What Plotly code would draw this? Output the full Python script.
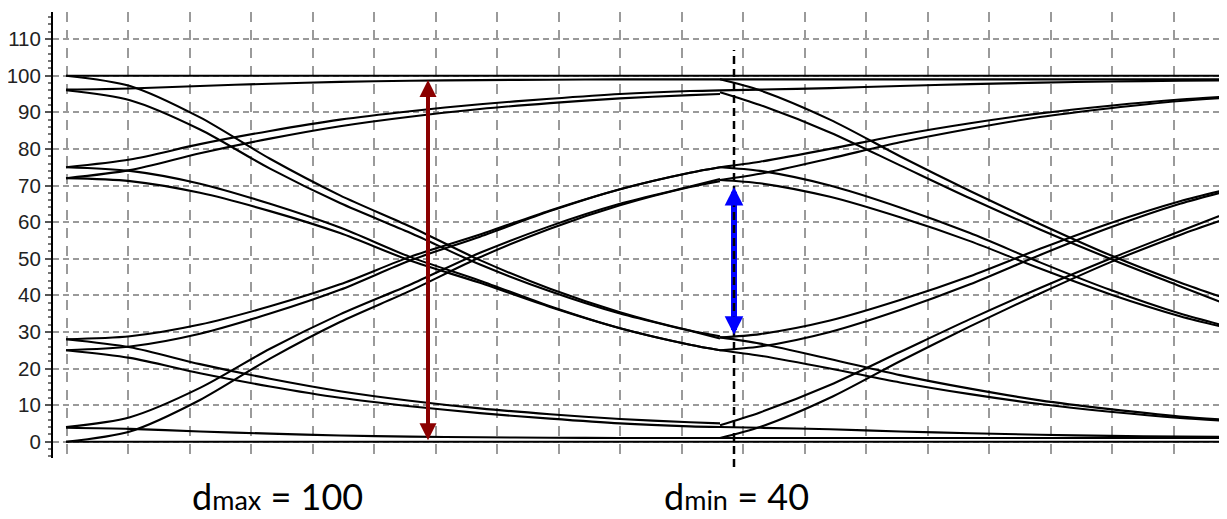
import plotly.graph_objects as go

# time samples (screen units) for the first bit period and the next, partial, one
t_a = [66, 130, 200, 270, 340, 410, 480, 550, 620, 690, 720]
t_b = [720, 760, 830, 900, 970, 1040, 1110, 1180, 1227]

# first bit period: one list per level transition
u1_100_100 = [100, 100, 100, 100, 100, 100, 100, 100, 100, 100, 100]
u1_96_99 = [96.2, 96.5, 97.2, 97.8, 98.3, 98.6, 98.8, 98.9, 99, 99, 99]
u1_100_29 = [100, 97.2, 88.6, 77.3, 67.3, 58.8, 49.6, 41.8, 35.4, 30.4, 28.8]
u1_96_28 = [96, 93.3, 85.3, 74.6, 65.2, 57.1, 48.4, 41.1, 35, 30.3, 28.2]
u1_75_96 = [75, 77.1, 81.3, 84.9, 88, 90.3, 92.2, 93.7, 95, 95.8, 96]
u1_72_95 = [72, 74.2, 78.8, 82.8, 86.2, 88.8, 90.9, 92.5, 93.8, 94.7, 95]
u1_75_25 = [75, 74, 70.5, 65, 58.5, 50.5, 44, 37, 31, 26.5, 25]
u1_72_25 = [72, 71.2, 68, 63, 57, 49.5, 43.4, 36.8, 31, 26.5, 25]
u1_0_0 = [0, 0, 0, 0, 0, 0, 0, 0, 0, 0, 0]
u1_4_1 = [3.8, 3.5, 2.8, 2.2, 1.7, 1.4, 1.2, 1.1, 1, 1, 1]
u1_0_71 = [0, 2.8, 11.4, 22.7, 32.7, 41.2, 50.4, 58.2, 64.6, 69.6, 71.2]
u1_4_72 = [4, 6.7, 14.7, 25.4, 34.8, 42.9, 51.6, 58.9, 65, 69.7, 71.8]
u1_25_4 = [25, 22.9, 18.7, 15.1, 12, 9.7, 7.8, 6.3, 5, 4.2, 4]
u1_28_5 = [28, 25.8, 21.2, 17.2, 13.8, 11.2, 9.1, 7.5, 6.2, 5.3, 5]
u1_25_75 = [25, 26, 29.5, 35, 41.5, 49.5, 56, 63, 69, 73.5, 75]
u1_28_75 = [28, 28.8, 32, 37, 43, 50.5, 56.6, 63.2, 69, 73.5, 75]

# second bit period
u2_100_100 = [100, 100, 100, 100, 100, 100, 100, 100, 100]
u2_99_99 = [99, 99, 99, 99, 99, 99, 99, 99, 99]
u2_96_99 = [96, 96.2, 96.6, 97.2, 97.7, 98.1, 98.4, 98.6, 98.7]
u2_99_29 = [99, 96, 88, 78, 68.5, 59.5, 51, 43.5, 39]
u2_96_29 = [95.5, 92, 84.5, 75.5, 66.5, 58, 50, 42.5, 37.5]
u2_75_96 = [75, 76.5, 80, 83.8, 87, 89.7, 91.8, 93.5, 94.3]
u2_72_96 = [71.5, 73.2, 77.4, 81.8, 85.5, 88.7, 91.1, 93.1, 94]
u2_75_25 = [75, 74, 70, 64, 57, 49, 41.5, 35, 31.5]
u2_72_25 = [71.5, 70.6, 66.9, 61.3, 54.8, 47.3, 40.3, 34.3, 31.1]
u2_0_0 = [0, 0, 0, 0, 0, 0, 0, 0, 0]
u2_1_1 = [1, 1, 1, 1, 1, 1, 1, 1, 1]
u2_4_1 = [4, 3.8, 3.4, 2.8, 2.3, 1.9, 1.6, 1.4, 1.3]
u2_1_71 = [1, 4, 12, 22, 31.5, 40.5, 49, 56.5, 61]
u2_4_71 = [4.5, 8, 15.5, 24.5, 33.5, 42, 50, 57.5, 62.5]
u2_25_4 = [25, 23.5, 20, 16.2, 13, 10.3, 8.2, 6.5, 5.7]
u2_28_4 = [28.5, 26.8, 22.6, 18.2, 14.5, 11.3, 8.9, 6.9, 6]
u2_25_75 = [25, 26, 30, 36, 43, 51, 58.5, 65, 68.5]
u2_28_75 = [28.5, 29.4, 33.1, 38.7, 45.2, 52.7, 59.7, 65.7, 68.9]

period_1 = [u1_100_100, u1_96_99, u1_100_29, u1_96_28, u1_75_96, u1_72_95,
            u1_75_25, u1_72_25, u1_0_0, u1_4_1, u1_0_71, u1_4_72,
            u1_25_4, u1_28_5, u1_25_75, u1_28_75]
period_2 = [u2_100_100, u2_99_99, u2_96_99, u2_99_29, u2_96_29, u2_75_96,
            u2_72_96, u2_75_25, u2_72_25, u2_0_0, u2_1_1, u2_4_1, u2_1_71,
            u2_4_71, u2_25_4, u2_28_4, u2_25_75, u2_28_75]

# eye openings marked on the chart
d_max_time, d_max_lo, d_max_hi = 428, 0, 98.8
d_min_time, d_min_lo, d_min_hi = 734, 29.2, 69.6
y_ticks = [0, 10, 20, 30, 40, 50, 60, 70, 80, 90, 100, 110]

fig = go.Figure()

for ys in period_1:
    fig.add_trace(go.Scatter(x=t_a, y=ys, mode='lines', hoverinfo='skip',
                             line=dict(color='black', width=2.1,
                                       shape='spline', smoothing=0.8),
                             showlegend=False))
for ys in period_2:
    fig.add_trace(go.Scatter(x=t_b, y=ys, mode='lines', hoverinfo='skip',
                             line=dict(color='black', width=2.1,
                                       shape='spline', smoothing=0.8),
                             showlegend=False))

# blue shaft, then the dashed sampling line over it
fig.add_shape(type='line', xref='x', yref='y', layer='above',
              x0=d_min_time, x1=d_min_time, y0=d_min_lo + 3, y1=d_min_hi - 3,
              line=dict(color='#0000FF', width=6))
fig.add_shape(type='line', xref='x', yref='paper', layer='above',
              x0=d_min_time, x1=d_min_time, y0=-0.02, y1=0.915,
              line=dict(color='black', width=2.5, dash='8px,5px'))

# arrow heads
fig.add_annotation(x=d_min_time, y=d_min_hi, ax=d_min_time, ay=d_min_hi - 3,
                   xref='x', yref='y', axref='x', ayref='y', text='',
                   showarrow=True, arrowhead=2, arrowsize=0.62, arrowwidth=6,
                   arrowcolor='#0000FF', standoff=0)
fig.add_annotation(x=d_min_time, y=d_min_lo, ax=d_min_time, ay=d_min_lo + 3,
                   xref='x', yref='y', axref='x', ayref='y', text='',
                   showarrow=True, arrowhead=2, arrowsize=0.62, arrowwidth=6,
                   arrowcolor='#0000FF', standoff=0)
fig.add_annotation(x=d_max_time, y=d_max_hi, ax=d_max_time, ay=d_max_lo,
                   xref='x', yref='y', axref='x', ayref='y', text='',
                   showarrow=True, arrowhead=2, startarrowhead=2,
                   arrowside='end+start', arrowsize=0.85, startarrowsize=0.85,
                   arrowwidth=4, arrowcolor='#8B0000', standoff=0,
                   startstandoff=0)

fig.add_annotation(x=277, y=-0.086, xref='x', yref='paper', showarrow=False,
                   yanchor='middle', xanchor='center', borderpad=0,
                   text="d<span style='font-size:27px'>max</span> = 100",
                   font=dict(family='Lato, sans-serif', size=36, color='black'))
fig.add_annotation(x=736, y=-0.086, xref='x', yref='paper', showarrow=False,
                   yanchor='middle', xanchor='center', borderpad=0,
                   text="d<span style='font-size:27px'>min</span> = 40",
                   font=dict(family='Lato, sans-serif', size=36, color='black'))

# the page keeps an 8 px body margin, so the figure is 8 px smaller each way
fig.update_layout(
    width=1219,
    height=511,
    margin=dict(l=45, r=0, t=4, b=61),
    paper_bgcolor='white',
    plot_bgcolor='white',
    xaxis=dict(range=[53, 1227], showgrid=True, gridcolor='#9a9a9a',
               gridwidth=1.5, griddash='10px,8px', tick0=66.7, dtick=61.5,
               showticklabels=False, zeroline=False, showline=False, ticks='',
               automargin=False),
    yaxis=dict(range=[-4.45, 117.4], tickvals=y_ticks, showgrid=True,
               gridcolor='#9a9a9a', gridwidth=1.5, griddash='6px,4px',
               zeroline=False, showline=True, linecolor='black', linewidth=2,
               ticks='outside', ticklen=6, tickwidth=1.5, tickcolor='#555',
               ticklabelstandoff=0, automargin=False,
               tickfont=dict(family='Liberation Sans, Arial, sans-serif',
                             size=20.5, color='#222'),
               minor=dict(ticks='outside', ticklen=3, dtick=2, tickcolor='#777',
                          showgrid=False)),
)

fig.write_html("out.html")
